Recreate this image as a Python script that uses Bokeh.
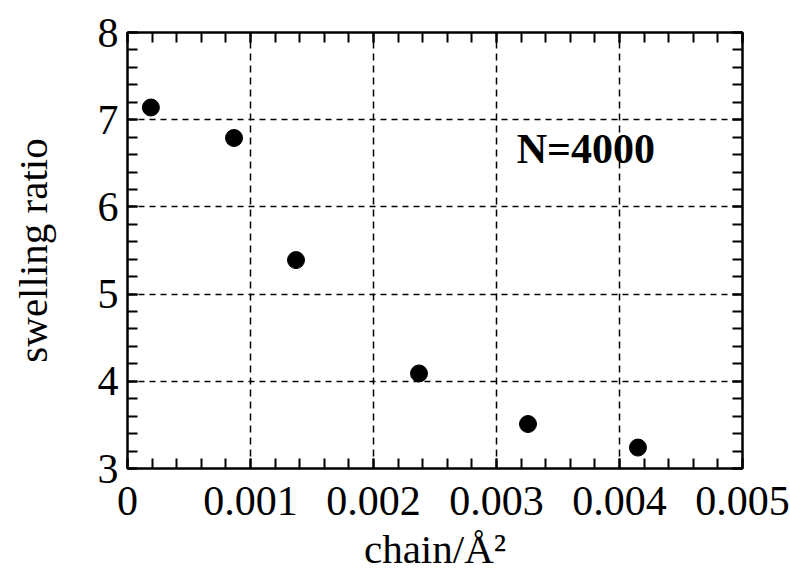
from bokeh.plotting import figure
from bokeh.models import LinearAxis, FixedTicker, Label, Range1d, Grid
from bokeh.embed import file_html
from bokeh.resources import INLINE

density = [0.00019, 0.000866, 0.00137, 0.00237, 0.003256, 0.00415]
swelling = [7.14, 6.79, 5.39, 4.09, 3.51, 3.24]

x_ticks = [0, 0.001, 0.002, 0.003, 0.004, 0.005]
x_tick_labels = ["0", "0.001", "0.002", "0.003", "0.004", "0.005"]
y_ticks = [3, 4, 5, 6, 7, 8]
x_minor = [i * 0.0002 for i in range(26)]
y_minor = [3 + i * 0.2 for i in range(26)]

SERIF = "Liberation Serif"

p = figure(width=790, height=574, output_backend="svg", toolbar_location=None,
           x_range=Range1d(0, 0.005), y_range=Range1d(3, 8),
           min_border_left=127, min_border_right=48, min_border_top=32, min_border_bottom=104,
           x_axis_location=None, y_axis_location=None)
p.background_fill_color = "white"
p.border_fill_color = "white"
p.outline_line_color = "black"
p.outline_line_width = 2


def style_axis(ax, ticks, minor, show_labels):
    ax.ticker = FixedTicker(ticks=ticks, minor_ticks=minor)
    ax.axis_line_width = 2
    ax.axis_line_color = "black"
    ax.major_tick_in = 10
    ax.major_tick_out = 0
    ax.minor_tick_in = 10
    ax.minor_tick_out = 0
    ax.major_tick_line_width = 2
    ax.minor_tick_line_width = 2
    ax.major_tick_line_color = "black"
    ax.minor_tick_line_color = "black"
    ax.major_label_text_font = SERIF
    ax.major_label_text_font_size = "42px"
    ax.major_label_text_color = "black"
    ax.axis_label_text_font = SERIF
    ax.axis_label_text_font_size = "41px"
    ax.axis_label_text_font_style = "normal"
    ax.axis_label_text_color = "black"
    if not show_labels:
        ax.major_label_text_alpha = 0
        ax.major_label_text_font_size = "1px"
        ax.major_label_standoff = 0


xb = LinearAxis(axis_label="chain/Å²")
style_axis(xb, x_ticks, x_minor, True)
xb.major_label_overrides = {t: l for t, l in zip(x_ticks, x_tick_labels)}
xb.major_label_standoff = 18
xb.axis_label_standoff = 8
p.add_layout(xb, "below")

yl = LinearAxis(axis_label="swelling ratio")
style_axis(yl, y_ticks, y_minor, True)
yl.major_label_standoff = 9
yl.axis_label_standoff = 39
yl.major_label_orientation = "horizontal"
yl.major_label_text_baseline = "alphabetic"
p.add_layout(yl, "left")

xt = LinearAxis()
style_axis(xt, x_ticks, x_minor, False)
p.add_layout(xt, "above")

yr = LinearAxis()
style_axis(yr, y_ticks, y_minor, False)
p.add_layout(yr, "right")

p.xgrid.visible = False
p.ygrid.visible = False
gx = Grid(dimension=0, ticker=xb.ticker, grid_line_color="black",
          grid_line_dash="7 5", grid_line_width=1.5)
gy = Grid(dimension=1, ticker=yl.ticker, grid_line_color="black",
          grid_line_dash="6 5", grid_line_width=1.5)
p.add_layout(gx)
p.add_layout(gy)

p.scatter(density, swelling, size=17, color="black")

p.add_layout(Label(x=0.003727, y=6.66, text="N=4000", text_align="center",
                   text_baseline="middle", text_font=SERIF, text_font_size="42px",
                   text_font_style="bold", text_color="black"))

open("out.html", "w").write(file_html(p, INLINE))
